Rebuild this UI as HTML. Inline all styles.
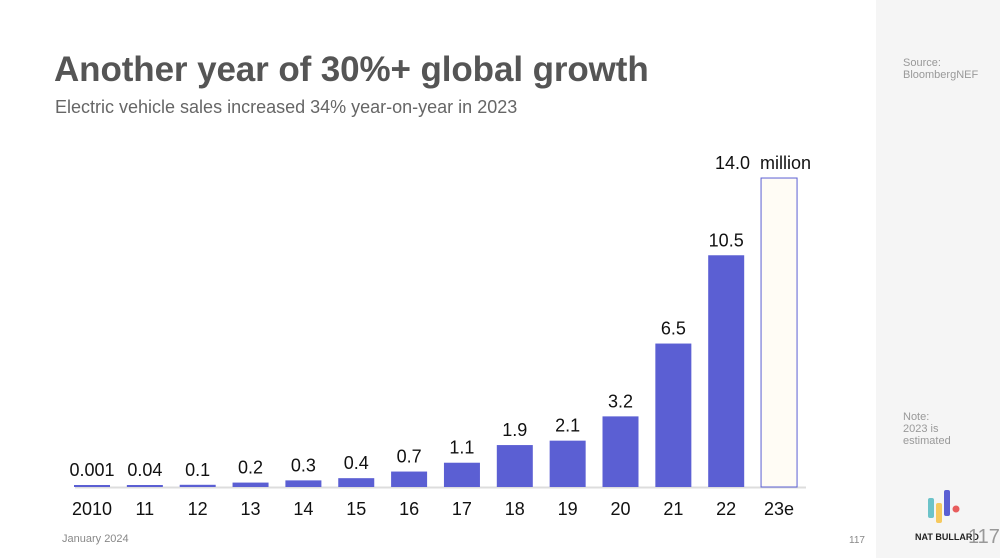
<!DOCTYPE html>
<html><head><meta charset="utf-8"><style>
body{margin:0;width:1000px;height:558px;overflow:hidden;background:#fff;font-family:"Liberation Sans",sans-serif;position:relative}
.abs{position:absolute}
</style></head><body>
<div class="abs" style="left:876px;top:0;width:124px;height:558px;background:#f5f5f5"></div>
<div class="abs" style="left:903px;top:57px;font-size:11px;color:#999;line-height:12px">Source:<br>BloombergNEF</div>
<div class="abs" style="left:903px;top:411px;font-size:11px;color:#999;line-height:12px">Note:<br>2023 is<br>estimated</div>
<div class="abs" style="left:54px;top:50px;font-size:35px;font-weight:bold;color:#555;letter-spacing:-0.1px">Another year of 30%+ global growth</div>
<div class="abs" style="left:55px;top:97px;font-size:18px;color:#666">Electric vehicle sales increased 34% year-on-year in 2023</div>
<div class="abs" style="left:62px;top:533px;font-size:11px;color:#888">January 2024</div>
<div class="abs" style="left:849px;top:535px;font-size:10px;color:#888">117</div>
<div class="abs" style="left:915px;top:532px;font-size:9px;font-weight:bold;color:#222">NAT BULLARD</div>
<div class="abs" style="left:968px;top:526px;font-size:20px;color:#999">117</div>
<svg class="abs" style="left:925px;top:488px" width="40" height="36">
<rect x="3" y="10" width="6" height="20" rx="2" fill="#6cc3c9"/><rect x="11" y="15" width="6" height="20" rx="2" fill="#f6c95e"/><rect x="19" y="2" width="6" height="26" rx="2" fill="#5b5fd3"/><circle cx="31" cy="21" r="3.5" fill="#e85d5d"/>
</svg>
<svg id="chart" class="abs" style="left:0;top:0" width="876" height="558"></svg>
<script>
const categories=["2010","11","12","13","14","15","16","17","18","19","20","21","22","23e"];
const values=[0.001,0.04,0.1,0.2,0.3,0.4,0.7,1.1,1.9,2.1,3.2,6.5,10.5,14.0];
const labels=["0.001","0.04","0.1","0.2","0.3","0.4","0.7","1.1","1.9","2.1","3.2","6.5","10.5","14.0"];
const svg=document.getElementById('chart');const NS='http://www.w3.org/2000/svg';
const base=487,scale=22.07,x0=92,step=52.85,bw=36;
const xPos=i=>x0+i*step;const yPos=v=>base-Math.max(v*scale,2);
function mk(t,a){const e=document.createElementNS(NS,t);for(const k in a)e.setAttribute(k,a[k]);svg.appendChild(e);return e;}
const ax=mk('line',{x1:75,x2:806,y1:base+0.5,y2:base+0.5,stroke:'#ddd','stroke-width':2});


values.forEach((v,i)=>{
const last=i===values.length-1;
const r=mk('rect',{x:xPos(i)-bw/2,y:yPos(v),width:bw,height:base-yPos(v),fill:last?'#fffcf5':'#5b5fd3',stroke:last?'#5b5fd3':'none','stroke-width':1});


const t=mk('text',{x:xPos(i),y:yPos(v)-9,'text-anchor':'middle','font-size':18,fill:'#111'});
t.textContent=labels[i]+(last?'  million':'');
if(last){t.setAttribute('x',xPos(i)-16);t.style.whiteSpace='pre';}


const c=mk('text',{x:xPos(i),y:515,'text-anchor':'middle','font-size':18,fill:'#111'});
c.textContent=categories[i];


});
</script>
</body></html>
